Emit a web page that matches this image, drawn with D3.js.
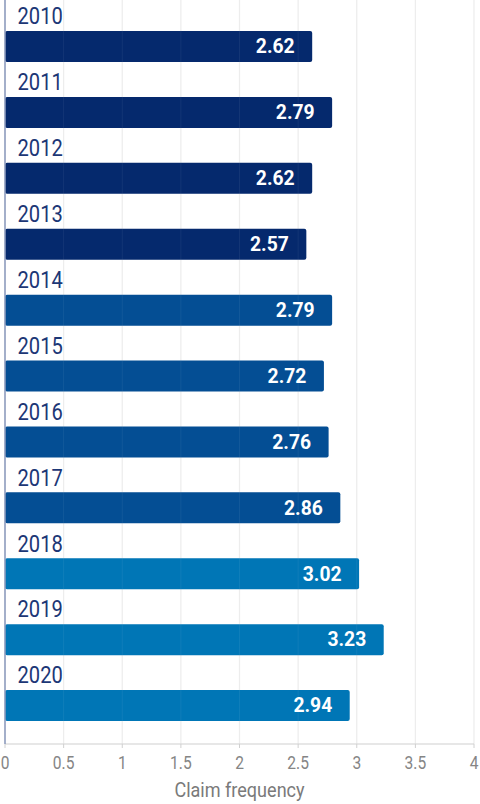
<!DOCTYPE html>
<html>
<head>
    <meta charset="utf-8">
    <script src="https://d3js.org/d3.v7.min.js"></script>
    <title>Claim frequency</title>
    <style>
      body { margin: 0; background: #fff; }
      svg { display: block; font-family: Roboto, "Noto Sans", sans-serif; }
    </style>
</head>
<body>
    <svg id="chart" width="480" height="804"></svg>

    <script>
    // data
    const years = ["2010", "2011", "2012", "2013", "2014", "2015", "2016", "2017", "2018", "2019", "2020"];
    const values = [2.62, 2.79, 2.62, 2.57, 2.79, 2.72, 2.76, 2.86, 3.02, 3.23, 2.94];
    const xTicks = [0, 0.5, 1, 1.5, 2, 2.5, 3, 3.5, 4];
    const xTickLabels = ["0", "0.5", "1", "1.5", "2", "2.5", "3", "3.5", "4"];
    const periodBreaks = [2014, 2018];
    const periodColors = ["#05296d", "#044e94", "#0076b6"];
    const axisTitle = "Claim frequency";

    const svg = d3.select("svg#chart");
    const margins = {"top": 0, "left": 5, "right": 6, "bottom": 60};
    const width = +svg.attr("width");
    const height = +svg.attr("height");
    const axisY = height - margins.bottom; // 744

    const x = d3.scaleLinear()
                .domain([0, 4])
                .range([margins.left, width - margins.right]);

    const y = d3.scaleBand()
                .domain(years)
                .range([margins.top, 725])
                .padding(0);

    const colour = d3.scaleThreshold()
                     .domain(periodBreaks)
                     .range(periodColors);

    const barOffset = 31;
    const barHeight = 31;

    // condensed look: squeeze text horizontally around its anchor
    function squeezed(g, px, py, s) {
        return g.append("text")
                .attr("transform", `translate(${px},${py}) scale(${s},1)`);
    }

    // gridlines
    let grid = svg.append("g").attr("id", "grid");
    xTicks.filter(d => d > 0).forEach(d => {
        grid.append("line")
            .attr("x1", x(d)).attr("x2", x(d))
            .attr("y1", 0).attr("y2", axisY)
            .attr("stroke", "#ececec")
            .attr("stroke-width", 1.2);
    });

    // bottom axis line with ticks
    let axis = svg.append("g").attr("id", "xaxis");
    axis.append("line")
        .attr("x1", x(0)).attr("x2", x(4))
        .attr("y1", axisY).attr("y2", axisY)
        .attr("stroke", "#d0d0d0")
        .attr("stroke-width", 1.2);
    xTicks.forEach((d, i) => {
        axis.append("line")
            .attr("x1", x(d)).attr("x2", x(d))
            .attr("y1", axisY).attr("y2", axisY + 4)
            .attr("stroke", "#d0d0d0");
        squeezed(axis, x(d), 769, 0.82)
            .attr("text-anchor", "middle")
            .attr("font-size", 19)
            .attr("fill", "#858585")
            .text(xTickLabels[i]);
    });

    squeezed(axis, (x(0) + x(4)) / 2, 797, 0.86)
        .attr("text-anchor", "middle")
        .attr("font-size", 21)
        .attr("fill", "#7a7a7a")
        .text(axisTitle);

    // bars
    let bars = svg.append("g").attr("id", "bars");
    years.forEach((yr, i) => {
        bars.append("rect")
            .attr("x", x(0))
            .attr("y", y(yr) + barOffset)
            .attr("width", x(values[i]) - x(0))
            .attr("height", barHeight)
            .attr("rx", 2)
            .attr("fill", colour(+yr));

        // year label
        squeezed(bars, 17.5, y(yr) + 24.3, 0.84)
            .attr("font-size", 24)
            .attr("fill", "#1c3776")
            .text(yr);

        // value label
        squeezed(bars, x(values[i]) - 17.5, y(yr) + barOffset + 22.3, 0.92)
            .attr("text-anchor", "end")
            .attr("font-size", 21)
            .attr("font-weight", 700)
            .attr("fill", "#ffffff")
            .text(values[i].toFixed(2));
    });

    // faint gridlines seen through the bars
    xTicks.filter(d => d > 0).forEach(d => {
        svg.append("line")
           .attr("x1", x(d)).attr("x2", x(d))
           .attr("y1", 0).attr("y2", axisY)
           .attr("stroke", "#ffffff")
           .attr("stroke-opacity", 0.06);
    });

    // left axis line
    svg.append("line")
       .attr("x1", x(0)).attr("x2", x(0))
       .attr("y1", 0).attr("y2", axisY)
       .attr("stroke", "#8d9bbd")
       .attr("stroke-width", 1.6);
    </script>
</body>
</html>
